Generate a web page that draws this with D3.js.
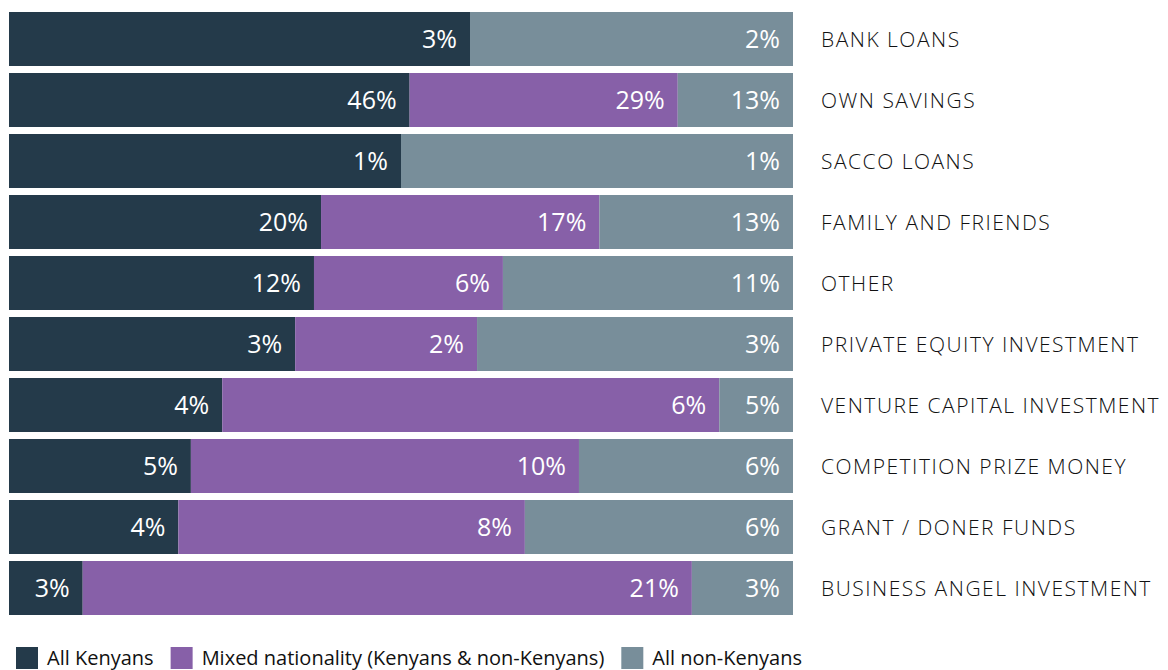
<!DOCTYPE html>
<html>
<head>
<meta charset="utf-8">
<script src="https://cdn.jsdelivr.net/npm/d3@7"></script>
<style>
  html, body { margin: 0; padding: 0; background: #fff; }
  svg { display: block; }
</style>
</head>
<body>
<svg id="chart" width="1168" height="670"></svg>
<script>
// Categories (top to bottom)
const categories = [
  "BANK LOANS", "OWN SAVINGS", "SACCO LOANS", "FAMILY AND FRIENDS", "OTHER",
  "PRIVATE EQUITY INVESTMENT", "VENTURE CAPITAL INVESTMENT",
  "COMPETITION PRIZE MONEY", "GRANT / DONER FUNDS", "BUSINESS ANGEL INVESTMENT"
];
// Printed labels (percent)
const labelKenyans    = [3, 46, 1, 20, 12, 3, 4, 5, 4, 3];
const labelMixed      = [null, 29, null, 17, 6, 2, 6, 10, 8, 21];
const labelNonKenyans = [2, 13, 1, 13, 11, 3, 5, 6, 6, 3];
// Segment shares of the full bar width (percent)
const shareKenyans    = [58.8, 51.1, 50.0, 39.8, 38.9, 36.5, 27.2, 23.2, 21.6, 9.4];
const shareMixed      = [0, 34.2, 0, 35.5, 24.1, 23.2, 63.4, 49.5, 44.2, 77.7];
const shareNonKenyans = [41.2, 14.7, 50.0, 24.7, 37.0, 40.3, 9.4, 27.3, 34.2, 12.9];
// Legend
const seriesNames = ["All Kenyans", "Mixed nationality (Kenyans & non-Kenyans)", "All non-Kenyans"];
const seriesColors = ["#243a4a", "#8760a8", "#788e9a"];

const svg = d3.select("#chart");
const font = "'Open Sans', 'Noto Sans', sans-serif";

const x = d3.scaleLinear().domain([0, 100]).range([9, 793]);
const y = d3.scaleBand().domain(categories).range([12, 615]).paddingInner(7 / 61).paddingOuter(0);

const shares = [shareKenyans, shareMixed, shareNonKenyans];
const labels = [labelKenyans, labelMixed, labelNonKenyans];

const rows = categories.map((c, i) => {
  let acc = 0;
  return shares.map((s, k) => {
    const seg = { cat: c, k, x0: acc, x1: acc + s[i], label: labels[k][i] };
    acc += s[i];
    return seg;
  });
});

const g = svg.append("g");
const rowG = g.selectAll("g.row").data(rows).join("g").attr("class", "row");

rowG.selectAll("rect").data(d => d.filter(s => s.x1 > s.x0)).join("rect")
  .attr("x", d => x(d.x0))
  .attr("width", d => x(d.x1) - x(d.x0))
  .attr("y", d => y(d.cat))
  .attr("height", y.bandwidth())
  .attr("fill", d => seriesColors[d.k]);

rowG.selectAll("text.val").data(d => d.filter(s => s.x1 > s.x0 && s.label != null)).join("text")
  .attr("class", "val")
  .attr("x", d => x(d.x1) - 13)
  .attr("y", d => y(d.cat) + y.bandwidth() / 2)
  .attr("dy", "0.36em")
  .attr("text-anchor", "end")
  .attr("fill", "#ffffff")
  .style("font-family", font)
  .style("font-size", "25px")
  .style("font-weight", 500)
  .text(d => d.label + "%");

// Category labels
g.selectAll("text.cat").data(categories).join("text")
  .attr("class", "cat")
  .attr("x", 821)
  .attr("y", d => y(d) + y.bandwidth() / 2)
  .attr("dy", "0.36em")
  .attr("fill", "#111111")
  .style("font-family", font)
  .style("font-size", "21px")
  .style("font-weight", 300)
  .style("letter-spacing", "1.5px")
  .text(d => d);

// Legend
const leg = svg.append("g");
let lx = 16;
seriesNames.forEach((name, k) => {
  leg.append("rect").attr("x", lx).attr("y", 647).attr("width", 22).attr("height", 22).attr("fill", seriesColors[k]);
  const t = leg.append("text")
    .attr("x", lx + 31)
    .attr("y", 665)
    .attr("fill", "#111111")
    .style("font-family", font)
    .style("font-size", "20px")
    .text(name);
  lx = lx + 31 + t.node().getComputedTextLength() + 17;
});
</script>
</body>
</html>
